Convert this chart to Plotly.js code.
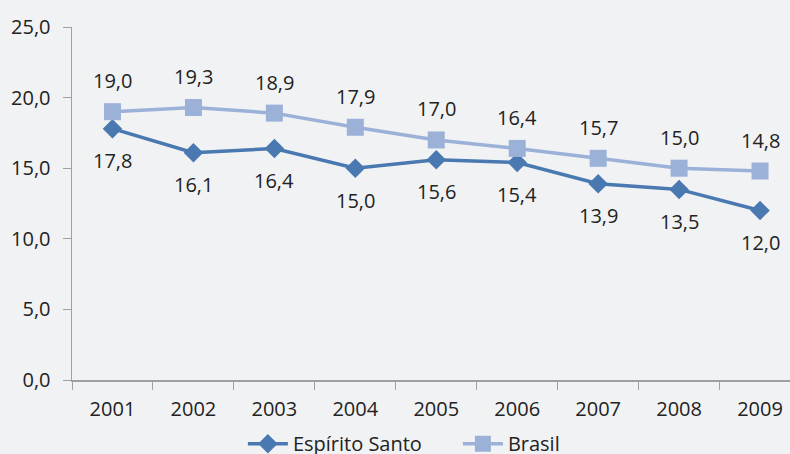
<!DOCTYPE html>
<html><head><meta charset="utf-8">
<script src="https://cdn.plot.ly/plotly-3.0.1.min.js"></script>
<style>html,body{margin:0;padding:0;background:#f1f2f4;}</style>
</head><body>
<div id="chart" style="width:790px;height:454px;"></div>
<script>
const years = ['2001','2002','2003','2004','2005','2006','2007','2008','2009'];
const espiritoSanto = [17.8,16.1,16.4,15.0,15.6,15.4,13.9,13.5,12.0];
const brasil = [19.0,19.3,18.9,17.9,17.0,16.4,15.7,15.0,14.8];
const yTicks = [0,5,10,15,20,25];

const fontFam = '"Open Sans", "DejaVu Sans", sans-serif';
const colES = '#4a78b0';
const colBR = '#9bb1d8';
const fs = 20;

const traces = [
  {x: years, y: espiritoSanto, name: 'Espírito Santo', type: 'scatter', mode: 'lines+markers',
   line: {color: colES, width: 3.5}, marker: {symbol: 'diamond', size: 15, color: colES}},
  {x: years, y: brasil, name: 'Brasil', type: 'scatter', mode: 'lines+markers',
   line: {color: colBR, width: 3.5}, marker: {symbol: 'square', size: 17, color: colBR}}
];

const fmt = v => v.toFixed(1).replace('.', ',');
const annotations = [];
years.forEach((yr, i) => {
  annotations.push({x: i, xref: 'x', yref: 'y', y: brasil[i], text: fmt(brasil[i]), showarrow: false, yshift: 31,
    font: {family: fontFam, size: fs, color: '#222'}});
  annotations.push({x: i, xref: 'x', yref: 'y', y: espiritoSanto[i], text: fmt(espiritoSanto[i]), showarrow: false, yshift: -32,
    font: {family: fontFam, size: fs, color: '#222'}});
});

const layout = {
  width: 790, height: 454,
  paper_bgcolor: '#f1f2f4', plot_bgcolor: '#f1f2f4',
  margin: {l: 72, r: 0, t: 27, b: 74, autoexpand: false},
  font: {family: fontFam, size: fs, color: '#222'},
  separators: ',.',
  showlegend: true,
  legend: {orientation: 'h', x: 0.238, xanchor: 'left', y: -0.125, yanchor: 'top', entrywidth: 160,
    font: {family: fontFam, size: fs, color: '#222'}, bgcolor: 'rgba(0,0,0,0)', itemwidth: 40},
  xaxis: {type: 'category', range: [-0.5, 8.37], tickson: 'boundaries', ticks: 'outside', ticklen: 8,
    tickcolor: '#a0a0a0', showline: true, linecolor: '#a0a0a0', linewidth: 1.5, showgrid: false,
    zeroline: false, ticklabelstandoff: 10, tickfont: {family: fontFam, size: fs, color: '#222'}},
  yaxis: {range: [0, 25], tickvals: yTicks, tickformat: '.1f', ticks: 'outside', ticklen: 8,
    tickcolor: '#a0a0a0', showline: true, linecolor: '#a0a0a0', linewidth: 1.5, showgrid: false,
    zeroline: false, ticklabelstandoff: 8, tickfont: {family: fontFam, size: fs, color: '#222'}},
  annotations: annotations
};

Plotly.newPlot('chart', traces, layout, {displayModeBar: false, staticPlot: true});
</script>
</body></html>
